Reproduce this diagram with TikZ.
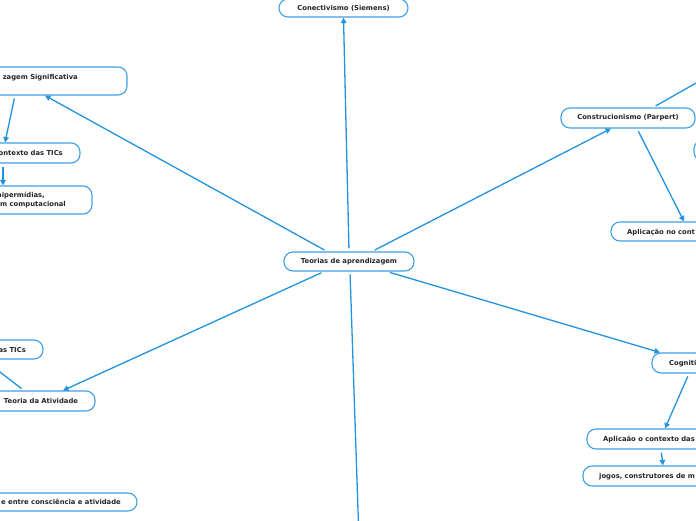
\documentclass[tikz,border=0pt]{standalone}
\usepackage{fontspec}
\newfontfamily\mapfont{DejaVu Sans}
\usetikzlibrary{arrows.meta}
\definecolor{boxc}{HTML}{3FA0E6}
\definecolor{linec}{HTML}{2393DD}
\tikzset{
  mapbox/.style={draw=boxc, line width=1.1pt, rounded corners=9pt, fill=white, inner sep=0pt,
    font=\mapfont\bfseries\fontsize{6.8}{8.5}\selectfont, text=black!85},
  lbl/.style={inner sep=0pt, font=\mapfont\bfseries\fontsize{6.8}{8.5}\selectfont, text=black!85},
  conn/.style={draw=linec, line width=1.3pt, shorten <=3pt, -{Triangle[length=5.5pt,width=5.5pt]}},
  plain/.style={draw=linec, line width=1.3pt, shorten <=3pt}
}
\begin{document}
\begin{tikzpicture}[x=1pt,y=-1pt]
\useasboundingbox (0,0) rectangle (696,520);
\clip (0,0) rectangle (696,520);
\fill[white] (0,0) rectangle (696,520);
% boxes
\node[mapbox, minimum width=129, minimum height=18] (con) at (343.5,8) {Conectivismo (Siemens)};
\node[mapbox, minimum width=130, minimum height=19] (teo) at (349,261.5) {Teorias de aprendizagem};
\node[mapbox, minimum width=187, minimum height=28] (sig) at (33.5,81) {};
\node[lbl, anchor=base east] (sigt) at (78,79.5) {zagem Significativa};
\node[mapbox, minimum width=140, minimum height=20] (ctx) at (10,153) {};
\node[lbl, anchor=base east] (ctxt) at (63,155.5) {ontexto das TICs};
\node[mapbox, minimum width=152, minimum height=28] (hip) at (16,200) {};
\node[lbl, anchor=base east] (hipa) at (45,197.5) {hipermídias,};
\node[lbl, anchor=base east] (hipb) at (66,206.5) {m computacional};
\node[mapbox, minimum width=134, minimum height=20] (cst) at (628,118) {Construcionismo (Parpert)};
\node[mapbox, minimum width=149, minimum height=19] (apl) at (685.5,231.5) {};
\node[lbl, anchor=base west] (aplt) at (627,234) {Aplicação no cont};
\node[mapbox, minimum width=106, minimum height=21] (rgt) at (747,150.5) {};
\node[mapbox, minimum width=128, minimum height=20] (cog) at (716,363) {};
\node[lbl, anchor=base west] (cogt) at (669,365.5) {Cogniti};
\node[mapbox, minimum width=173, minimum height=20] (ap2) at (673.5,439) {};
\node[lbl, anchor=base west] (ap2t) at (603,441.5) {Aplicaão o contexto das};
\node[mapbox, minimum width=177, minimum height=20] (jog) at (671.5,476) {};
\node[lbl, anchor=base west] (jogt) at (599,478.5) {jogos, construtores de m};
\node[mapbox, minimum width=108, minimum height=20] (atv) at (41,401) {Teoria da Atividade};
\node[mapbox, minimum width=103, minimum height=19] (tic) at (-8.5,349.5) {};
\node[lbl, anchor=base east] (tict) at (26,352) {as TICs};
\node[mapbox, minimum width=257, minimum height=18] (csc) at (8.5,502) {};
\node[lbl, anchor=base east] (csct) at (121,504.5) {e entre consciência e atividade};
% free ends
\coordinate (down) at (358.5,525);
\coordinate (upr) at (700,80.8);
\coordinate (upl) at (-5,368.2);
% connectors
\draw[conn] (teo.north) -- (con.south);
\draw[conn] ([xshift=-22pt]teo.north) -- ([xshift=11.5pt]sig.south);
\draw[conn] ([xshift=23pt]teo.north) -- ([xshift=-17pt]cst.south);
\draw[conn] ([xshift=-25pt]teo.south) -- ([xshift=22pt]atv.north);
\draw[conn] ([xshift=38pt]teo.south) -- ([xshift=-56pt]cog.north);
\draw[plain] ([xshift=1pt]teo.south) -- (down);
\draw[conn] ([xshift=-18.5pt]sig.south) -- ([xshift=-5pt]ctx.north);
\draw[conn] ([xshift=-7pt]ctx.south) -- ([xshift=-13pt]hip.north);
\draw[conn] ([xshift=9pt]cst.south) -- ([xshift=-1.5pt]apl.north);
\draw[plain] ([xshift=25pt]cst.north) -- (upr);
\draw[conn] ([xshift=-27pt]cog.south) -- ([xshift=-8.5pt]ap2.north);
\draw[conn] ([xshift=-12.5pt]ap2.south) -- ([xshift=-8.5pt]jog.north);
\draw[plain] ([xshift=-17pt]atv.north) -- (upl);
\end{tikzpicture}
\end{document}
